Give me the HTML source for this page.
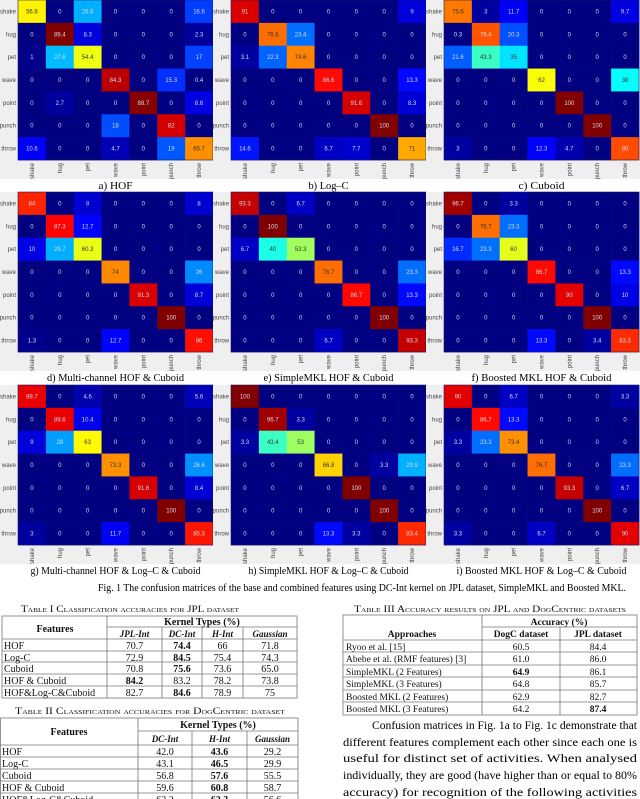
<!DOCTYPE html>
<html><head><meta charset="utf-8"><style>
html,body{margin:0;padding:0;background:#fff;}
svg{display:block;font-family:"Liberation Sans",sans-serif;}
.serif{font-family:"Liberation Serif",serif;}
</style></head><body>
<svg id="page" width="640" height="799" viewBox="0 0 640 799" xmlns="http://www.w3.org/2000/svg">
<g id="mats"></g>
<text class="serif" x="98" y="591" font-size="10" textLength="528" lengthAdjust="spacingAndGlyphs">Fig. 1 The confusion matrices of the base and combined features using DC-Int kernel on JPL dataset, SimpleMKL and Boosted MKL.</text>
<g id="tables" class="serif"></g>
<g class="serif" font-size="12">
<text x="372" y="729" textLength="265" lengthAdjust="spacingAndGlyphs">Confusion matrices in Fig. 1a to Fig. 1c demonstrate that</text>
<text x="343" y="746" textLength="294" lengthAdjust="spacingAndGlyphs">different features complement each other since each one is</text>
<text x="343" y="762" textLength="294" lengthAdjust="spacingAndGlyphs">useful for distinct set of activities. When analysed</text>
<text x="343" y="779" textLength="294" lengthAdjust="spacingAndGlyphs">individually, they are good (have higher than or equal to 80%</text>
<text x="343" y="796" textLength="294" lengthAdjust="spacingAndGlyphs">accuracy) for recognition of the following activities</text>
</g>
</svg>
<script>
const labels=['shake','hug','pet','wave','point','punch','throw'];
const hofValues=[[56.8,0,26.6,0,0,0,16.6],[0,89.4,8.3,0,0,0,2.3],[1,27.6,54.4,0,0,0,17],[0,0,0,84.3,0,15.3,0.4],[0,2.7,0,0,88.7,0,8.6],[0,0,0,18,0,82,0],[10.6,0,0,4.7,0,19,65.7]];
const logcValues=[[91,0,0,0,0,0,9],[0,76.6,23.4,0,0,0,0],[3.1,22.3,74.6,0,0,0,0],[0,0,0,86.6,0,0,13.3],[0,0,0,0,91.6,0,8.3],[0,0,0,0,0,100,0],[14.6,0,0,6.7,7.7,0,71]];
const cuboidValues=[[75.6,3,11.7,0,0,0,9.7],[0.3,79.4,20.3,0,0,0,0],[21.6,43.3,35,0,0,0,0],[0,0,0,62,0,0,38],[0,0,0,0,100,0,0],[0,0,0,0,0,100,0],[3,0,0,12.3,4.7,0,80]];
const mcHofCubValues=[[84,0,8,0,0,0,8],[0,87.3,12.7,0,0,0,0],[10,29.7,60.3,0,0,0,0],[0,0,0,74,0,0,26],[0,0,0,0,91.3,0,8.7],[0,0,0,0,0,100,0],[1.3,0,0,12.7,0,0,86]];
const smklHofCubValues=[[93.3,0,6.7,0,0,0,0],[0,100,0,0,0,0,0],[6.7,40,53.3,0,0,0,0],[0,0,0,76.7,0,0,23.3],[0,0,0,0,86.7,0,13.3],[0,0,0,0,0,100,0],[0,0,0,6.7,0,0,93.3]];
const bmklHofCubValues=[[96.7,0,3.3,0,0,0,0],[0,76.7,23.3,0,0,0,0],[16.7,23.3,60,0,0,0,0],[0,0,0,86.7,0,0,13.3],[0,0,0,0,90,0,10],[0,0,0,0,0,100,0],[0,0,0,13.3,0,3.4,83.3]];
const mcAllValues=[[89.7,0,4.6,0,0,0,5.6],[0,89.6,10.4,0,0,0,0],[9,28,63,0,0,0,0],[0,0,0,73.3,0,0,26.6],[0,0,0,0,91.6,0,8.4],[0,0,0,0,0,100,0],[3,0,0,11.7,0,0,85.3]];
const smklAllValues=[[100,0,0,0,0,0,0],[0,96.7,3.3,0,0,0,0],[3.3,43.4,53,0,0,0,0],[0,0,0,66.8,0,3.3,29.9],[0,0,0,0,100,0,0],[0,0,0,0,0,100,0],[0,0,0,13.3,3.3,0,83.4]];
const bmklAllValues=[[90,0,6.7,0,0,0,3.3],[0,86.7,13.3,0,0,0,0],[3.3,23.3,73.4,0,0,0,0],[0,0,0,76.7,0,0,23.3],[0,0,0,0,93.3,0,6.7],[0,0,0,0,0,100,0],[3.3,0,0,6.7,0,0,90]];
const captions=['a) HOF','b) Log\u2013C','c) Cuboid','d) Multi-channel HOF & Cuboid','e) SimpleMKL HOF & Cuboid','f) Boosted MKL HOF & Cuboid','g) Multi-channel HOF & Log\u2013C & Cuboid','h) SimpleMKL HOF & Log\u2013C & Cuboid','i) Boosted MKL HOF & Log\u2013C & Cuboid'];
const captionWidths=[34,40,46,137,130,140,170,160,170];
const matrices=[hofValues,logcValues,cuboidValues,mcHofCubValues,smklHofCubValues,bmklHofCubValues,mcAllValues,smklAllValues,bmklAllValues];

const tbl1Rows=['HOF','Log-C','Cuboid','HOF & Cuboid','HOF&Log-C&Cuboid'];
const tbl1Cols=['JPL-Int','DC-Int','H-Int','Gaussian'];
const tbl1Vals=[['70.7','74.4','66','71.8'],['72.9','84.5','75.4','74.3'],['70.8','75.6','73.6','65.0'],['84.2','83.2','78.2','73.8'],['82.7','84.6','78.9','75']];
const tbl1Bold=[1,1,1,0,1];
const tbl2Rows=['HOF','Log-C','Cuboid','HOF & Cuboid','HOF&Log-C&Cuboid'];
const tbl2Cols=['DC-Int','H-Int','Gaussian'];
const tbl2Vals=[['42.0','43.6','29.2'],['43.1','46.5','29.9'],['56.8','57.6','55.5'],['59.6','60.8','58.7'],['62.2','62.3','56.6']];
const tbl3Rows=['Ryoo et al. [15]','Abebe et al. (RMF features) [3]','SimpleMKL (2 Features)','SimpleMKL (3 Features)','Boosted MKL (2 Features)','Boosted MKL (3 Features)'];
const tbl3Vals=[['60.5','84.4'],['61.0','86.0'],['64.9','86.1'],['64.8','85.7'],['62.9','82.7'],['64.2','87.4']];

const NS='http://www.w3.org/2000/svg';
function mk(parent,tag,attrs,txt){const e=document.createElementNS(NS,tag);for(const k in attrs)e.setAttribute(k,attrs[k]);if(txt!==undefined)e.textContent=txt;parent.appendChild(e);return e;}
function cl(v){return Math.max(0,Math.min(1,v));}
function jet(t){return [cl(1.5-Math.abs(4*t-3)),cl(1.5-Math.abs(4*t-2)),cl(1.5-Math.abs(4*t-1))];}

const mats=document.getElementById('mats');
const colX=[18,231,444], rowY=[0,192,385];
const MW=195, MH=160;
matrices.forEach((vals,p)=>{
  const mx=colX[p%3], my=rowY[Math.floor(p/3)];
  const vmax=Math.max(...vals.flat());
  const g=mk(mats,'g',{});
  
  
  const bg=mk(g,'rect',{x:mx-18,y:my,width:MW+20,height:179,fill:'#efefef'});
  
  
  const n=labels.length, cw=MW/n, ch=MH/n;
  const xs=i=>mx+i*cw, ys=j=>my+j*ch;
  vals.forEach((row,j)=>row.forEach((v,i)=>{
    const c=jet(v/vmax);
    const r=mk(g,'rect',{x:xs(i),y:ys(j),width:cw+0.3,height:ch+0.3,fill:`rgb(${Math.round(c[0]*255)},${Math.round(c[1]*255)},${Math.round(c[2]*255)})`});
    
    
    const lum=0.299*c[0]+0.587*c[1]+0.114*c[2];
    const t=mk(g,'text',{x:xs(i)+cw/2,y:ys(j)+ch/2+2,'font-size':6,'text-anchor':'middle',fill:lum>0.55?'#333':'#d8d8e8'},String(v));
    
    
  }));
  mk(g,'rect',{x:mx,y:my,width:MW,height:MH,fill:'none',stroke:'#1a1a6a','stroke-width':0.6});
  labels.forEach((l,j)=>{
    const t=mk(g,'text',{x:mx-2,y:ys(j)+ch/2+2,'font-size':6,'text-anchor':'end',fill:'#444'},l);
    
    
    const cx=xs(j)+cw/2, cy=my+MH+3;
    const t2=mk(g,'text',{x:cx+2,y:cy,'font-size':6,'text-anchor':'end',fill:'#444',transform:`rotate(-90 ${cx+2} ${cy})`},l);
    
    
  });
  const cap=mk(g,'text',{x:mx+MW/2-captionWidths[p]/2,y:my+189,'font-size':11,class:'serif',textLength:captionWidths[p],lengthAdjust:'spacingAndGlyphs'},captions[p]);
  
  
});

const tb=document.getElementById('tables');
function line(g,x1,y1,x2,y2){mk(g,'line',{x1,y1,x2,y2,stroke:'#777','stroke-width':0.8});}
function txt(g,x,y,s,opt){const a=Object.assign({x,y,'font-size':10,'text-anchor':'middle',fill:'#111'},opt||{});return mk(g,'text',a,s);}
{
  const g=mk(tb,'g',{});
  
  
  txt(g,130,612,'Table I Classification accuracies for JPL dataset',{'font-size':9,'font-variant':'small-caps',textLength:218,lengthAdjust:'spacingAndGlyphs'});
  const cx=[2,107,162,202,243,297], ry=[616,627,639,651,662,674,686,698];
  mk(g,'rect',{x:2,y:616,width:295,height:82,fill:'none',stroke:'#777','stroke-width':0.8});
  line(g,107,616,107,698);line(g,107,627,297,627);
  for(let k=2;k<5;k++)line(g,cx[k],627,cx[k],698);
  for(let r=2;r<7;r++)line(g,2,ry[r],297,ry[r]);
  txt(g,55,632,'Features',{'font-weight':'bold'});
  txt(g,202,625,'Kernel Types (%)',{'font-weight':'bold'});
  tbl1Cols.forEach((c,i)=>txt(g,(cx[i+1]+cx[i+2])/2,637,c,{'font-weight':'bold','font-style':'italic','font-size':9}));
  tbl1Rows.forEach((r,j)=>{
    txt(g,4,ry[j+2]+10,r,{'text-anchor':'start'});
    tbl1Vals[j].forEach((v,i)=>txt(g,(cx[i+1]+cx[i+2])/2,ry[j+2]+10,v,{'font-weight':i===tbl1Bold[j]?'bold':'normal'}));
  });
}
{
  const g=mk(tb,'g',{});
  
  
  txt(g,150,714,'Table II Classification accuracies for DogCentric dataset',{'font-size':9,'font-variant':'small-caps',textLength:270,lengthAdjust:'spacingAndGlyphs'});
  const cx=[0,138,192,247,298], ry=[718,731,745,757,769,781,793,805];
  mk(g,'rect',{x:0.5,y:718,width:297.5,height:90,fill:'none',stroke:'#777','stroke-width':0.8});
  line(g,138,718,138,805);line(g,138,731,298,731);
  for(let k=2;k<4;k++)line(g,cx[k],731,cx[k],805);
  for(let r=2;r<7;r++)line(g,0,ry[r],298,ry[r]);
  txt(g,69,735,'Features',{'font-weight':'bold'});
  txt(g,218,728,'Kernel Types (%)',{'font-weight':'bold'});
  tbl2Cols.forEach((c,i)=>txt(g,(cx[i+1]+cx[i+2])/2,742,c,{'font-weight':'bold','font-style':'italic','font-size':9}));
  tbl2Rows.forEach((r,j)=>{
    txt(g,2,ry[j+2]+10,r,{'text-anchor':'start'});
    tbl2Vals[j].forEach((v,i)=>txt(g,(cx[i+1]+cx[i+2])/2,ry[j+2]+10,v,{'font-weight':i===1?'bold':'normal'}));
  });
}
{
  const g=mk(tb,'g',{});
  
  
  txt(g,490,612,'Table III Accuracy results on JPL and DogCentric datasets',{'font-size':9,'font-variant':'small-caps',textLength:272,lengthAdjust:'spacingAndGlyphs'});
  const cx=[343,482,560,637], ry=[615,627,640,652,665,677,690,702,715];
  mk(g,'rect',{x:343,y:615,width:294,height:100,fill:'none',stroke:'#777','stroke-width':0.8});
  line(g,482,615,482,715);line(g,560,627,560,715);line(g,482,627,637,627);
  for(let r=2;r<8;r++)line(g,343,ry[r],637,ry[r]);
  txt(g,559,625,'Accuracy (%)',{'font-weight':'bold','font-size':9.5});
  txt(g,412,637,'Approaches',{'font-weight':'bold','font-size':9.5});
  txt(g,521,637,'DogC dataset',{'font-weight':'bold','font-size':9.5});
  txt(g,598,637,'JPL dataset',{'font-weight':'bold','font-size':9.5});
  const best0=2,best1=5;
  tbl3Rows.forEach((r,j)=>{
    txt(g,346,ry[j+2]+10,r,{'text-anchor':'start','font-size':9.5});
    txt(g,521,ry[j+2]+10,tbl3Vals[j][0],{'font-weight':j===best0?'bold':'normal','font-size':9.5});
    txt(g,598,ry[j+2]+10,tbl3Vals[j][1],{'font-weight':j===best1?'bold':'normal','font-size':9.5});
  });
}
</script>
</body></html>
